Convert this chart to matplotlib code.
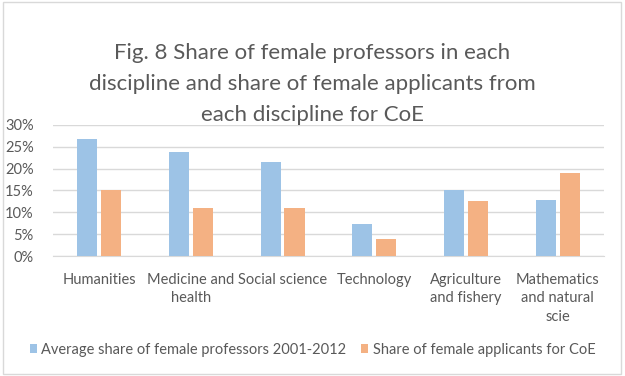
import matplotlib.pyplot as plt
from matplotlib.patches import Rectangle
from matplotlib.ticker import PercentFormatter
import numpy as np

categories = ['Humanities', 'Medicine and\nhealth', 'Social science', 'Technology',
              'Agriculture\nand fishery', 'Mathematics\nand natural\nscie']
professors = [0.268, 0.239, 0.215, 0.074, 0.151, 0.129]
applicants = [0.150, 0.110, 0.110, 0.040, 0.125, 0.189]
series_names = ['Average share of female professors 2001-2012',
                'Share of female applicants for CoE']

plt.rcParams['font.family'] = ['Lato', 'DejaVu Sans']
text_col = '#595959'

fig = plt.figure(figsize=(6.25, 3.76), dpi=100)
ax = fig.add_axes([0.085, 0.319, 0.881, 0.349])

x = np.arange(len(categories))
w = 0.22
b1 = ax.bar(x - 0.13, professors, w, color='#9DC3E6', zorder=3, label=series_names[0])
b2 = ax.bar(x + 0.13, applicants, w, color='#F4B183', zorder=3, label=series_names[1])

ax.set_ylim(0, 0.30)
ax.set_xlim(-0.5, len(categories) - 0.5)
ax.set_yticks(np.arange(0, 0.31, 0.05))
ax.yaxis.set_major_formatter(PercentFormatter(1.0, decimals=0))
ax.grid(axis='y', color='#D9D9D9', linewidth=1, zorder=0)
ax.set_xticks(x)
ax.set_xticklabels(categories, fontsize=10.5, color=text_col, linespacing=1.4)
ax.tick_params(axis='both', length=0, colors=text_col, labelsize=10.5)
ax.tick_params(axis='x', pad=12)
ax.tick_params(axis='y', pad=14)
for s in ax.spines.values():
    s.set_visible(False)
ax.spines['bottom'].set_visible(True)
ax.spines['bottom'].set_color('#D9D9D9')

fig.text(0.5, 0.776, 'Fig. 8 Share of female professors in each\n'
         'discipline and share of female applicants from\n'
         'each discipline for CoE', ha='center', va='center',
         fontsize=16, color=text_col, linespacing=1.7)

fig.legend(handles=[b1, b2], loc='center', bbox_to_anchor=(0.5, 0.07), ncol=2,
           frameon=False, fontsize=10.5, labelcolor=text_col, handlelength=0.5,
           handleheight=0.5, handletextpad=0.3, columnspacing=1.0)

fig.patches.append(Rectangle((0.004, 0.005), 0.99, 0.99, transform=fig.transFigure,
                             fill=False, edgecolor='#D9D9D9', linewidth=1))

fig.savefig('out.png', dpi=100)
